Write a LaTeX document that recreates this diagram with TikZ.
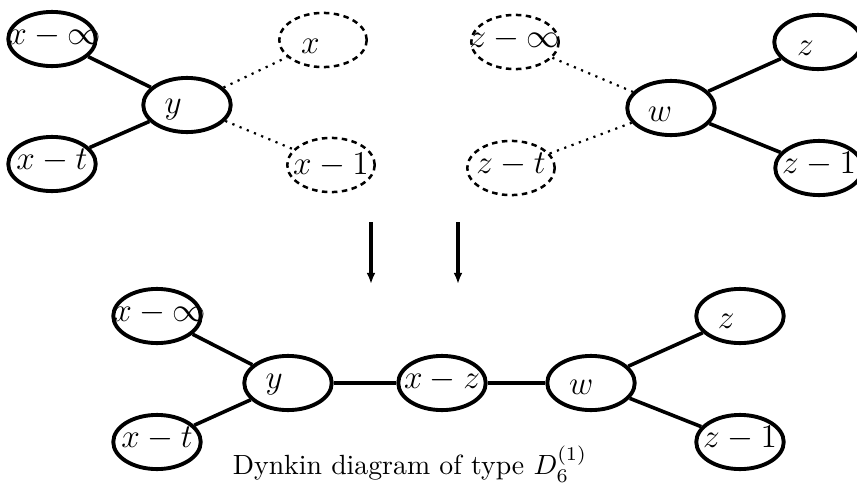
\documentclass[tikz,border=0pt]{standalone}
\usetikzlibrary{arrows.meta,shapes.geometric}
\newcommand\nlab[3]{\hbox to 0pt{\hss\kern#1\relax\raisebox{#2}{$#3$}\kern-#1\relax\hss}}
\begin{document}
\begin{tikzpicture}[x=0.36pt,y=-0.36pt,
  every node/.style={font=\fontsize{11.5}{13}\selectfont},
  nodebase/.style={ellipse,minimum width=31.5pt,minimum height=19.5pt,inner sep=0pt,text height=6pt,text depth=2pt},
  vert/.style={nodebase,draw,line width=1.4pt},
  ghost/.style={nodebase,draw,dashed,dash pattern=on 2pt off 1.6pt,line width=0.9pt},
  conn/.style={line width=1.3pt},
  dotline/.style={dotted,line width=0.8pt},
  downarrow/.style={line width=1.3pt,-{Latex[length=4pt,width=3.2pt]}}]
\useasboundingbox (0,0) rectangle (857,484);
% top left
\node[vert] (a1) at (52,39) {\nlab{1pt}{0pt}{x-\infty}};
\node[vert] (a2) at (187,105) {\nlab{-5pt}{-1pt}{y}};
\node[vert] (a3) at (52,164) {\nlab{0pt}{0pt}{x-t}};
\node[ghost] (a4) at (323,40) {\nlab{-4.5pt}{-3pt}{x}};
\node[ghost] (a5) at (331,165) {\nlab{0pt}{-1.5pt}{x-1}};
\draw[conn] (a1) -- (a2);
\draw[conn] (a3) -- (a2);
\draw[dotline] (a2) -- (a4);
\draw[dotline] (a2) -- (a5);
% top right
\node[ghost] (b1) at (515,42) {\nlab{0pt}{0pt}{z-\infty}};
\node[vert] (b2) at (671,108) {\nlab{-4pt}{-3pt}{w}};
\node[ghost] (b3) at (511,168) {\nlab{0pt}{0pt}{z-t}};
\node[vert] (b4) at (818,42) {\nlab{-4.5pt}{-3pt}{z}};
\node[vert] (b5) at (819,168) {\nlab{0pt}{0pt}{z-1}};
\draw[dotline] (b1) -- (b2);
\draw[dotline] (b3) -- (b2);
\draw[conn] (b2) -- (b4);
\draw[conn] (b2) -- (b5);
% arrows
\coordinate (p1) at (371,222);
\coordinate (q1) at (371,284);
\coordinate (p2) at (458,222);
\coordinate (q2) at (458,284);
\draw[downarrow] (p1) -- (q1);
\draw[downarrow] (p2) -- (q2);
% bottom
\node[vert] (c1) at (157,316) {\nlab{1pt}{0pt}{x-\infty}};
\node[vert] (c2) at (288,383) {\nlab{-5pt}{0pt}{y}};
\node[vert] (c3) at (157,442) {\nlab{0pt}{0pt}{x-t}};
\node[vert] (c4) at (442,383) {\nlab{0pt}{0pt}{x-z}};
\node[vert] (c5) at (591,383) {\nlab{-3.5pt}{-2pt}{w}};
\node[vert] (c6) at (740,316) {\nlab{-5pt}{-2.5pt}{z}};
\node[vert] (c7) at (740,442) {\nlab{0pt}{0pt}{z-1}};
\draw[conn] (c1) -- (c2);
\draw[conn] (c3) -- (c2);
\draw[conn] (c2) -- (c4);
\draw[conn] (c4) -- (c5);
\draw[conn] (c5) -- (c6);
\draw[conn] (c5) -- (c7);
\node[font=\normalsize] (cap) at (410,464) {Dynkin diagram of type $D_6^{(1)}$};
\end{tikzpicture}
\end{document}
